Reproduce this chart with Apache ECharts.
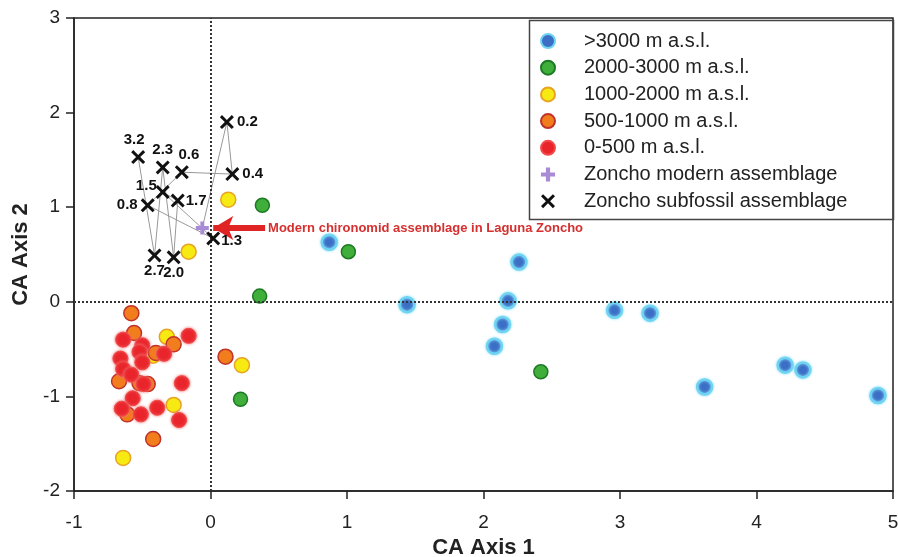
<!DOCTYPE html>
<html>
<head>
<meta charset="utf-8">
<script src="https://cdn.jsdelivr.net/npm/echarts@6/dist/echarts.min.js"></script>
<style>
  html, body { margin: 0; padding: 0; background: #fff; }
  #chart { width: 898px; height: 557px; }
</style>
</head>
<body>
<div id="chart"></div>
<script>
// sample scores on CA axes 1 and 2, grouped by altitude
const above3000 = [[0.87, 0.63], [1.44, -0.03], [2.26, 0.42], [2.18, 0.01], [2.14, -0.24], [2.08, -0.47],
  [2.96, -0.09], [3.22, -0.12], [3.62, -0.90], [4.21, -0.67], [4.34, -0.72], [4.89, -0.99]];
const alt2000to3000 = [[0.38, 1.02], [1.01, 0.53], [0.36, 0.06], [0.22, -1.03], [2.42, -0.74]];
const alt1000to2000 = [[0.13, 1.08], [-0.16, 0.53], [-0.32, -0.37], [0.23, -0.67], [-0.27, -1.09],
  [-0.64, -1.65], [-0.42, -0.57]];
const alt500to1000 = [[-0.58, -0.12], [-0.56, -0.33], [-0.27, -0.45], [-0.40, -0.54], [0.11, -0.58],
  [-0.67, -0.84], [-0.52, -0.86], [-0.46, -0.87], [-0.61, -1.19], [-0.42, -1.45]];
const alt0to500 = [[-0.64, -0.40], [-0.16, -0.36], [-0.50, -0.46], [-0.52, -0.53], [-0.34, -0.55],
  [-0.66, -0.60], [-0.50, -0.64], [-0.64, -0.71], [-0.58, -0.77], [-0.49, -0.87], [-0.21, -0.86],
  [-0.57, -1.02], [-0.65, -1.13], [-0.51, -1.19], [-0.39, -1.12], [-0.23, -1.25]];

// Zoncho: modern sample and subfossil samples (ages, ka)
const zonchoModern = [-0.06, 0.78];
const fossilAge = ['0.2', '0.4', '0.6', '0.8', '1.3', '1.5', '1.7', '2.0', '2.3', '2.7', '3.2'];
const fossilX = [0.12, 0.16, -0.21, -0.46, 0.02, -0.35, -0.24, -0.27, -0.35, -0.41, -0.53];
const fossilY = [1.90, 1.35, 1.37, 1.02, 0.67, 1.16, 1.07, 0.47, 1.42, 0.49, 1.53];

const arrowFrom = [0.40, 0.78];
const arrowTo = [0.02, 0.78];
const note = 'Modern chironomid assemblage in Laguna Zoncho';

const names = ['>3000 m a.s.l.', '2000-3000 m a.s.l.', '1000-2000 m a.s.l.', '500-1000 m a.s.l.',
  '0-500 m a.s.l.', 'Zoncho modern assemblage', 'Zoncho subfossil assemblage'];

// label placement of the age labels
const agePos = {
  '0.2': ['right', [0, 0]], '0.4': ['right', [0, 0]], '0.6': ['top', [7, 0]], '0.8': ['left', [0, 0]],
  '1.3': ['right', [-2, 2]], '1.5': ['left', [4, -6]], '1.7': ['right', [-2, 0]], '2.0': ['bottom', [0, -2]],
  '2.3': ['top', [0, 0]], '2.7': ['bottom', [0, -2]], '3.2': ['top', [-4, 0]]
};

const font = '"Liberation Sans", Arial, sans-serif';
const xPath = 'path://M3,0 L10,7 L17,0 L20,3 L13,10 L20,17 L17,20 L10,13 L3,20 L0,17 L7,10 L0,3 Z';
const plusPath = 'path://M7,0 L13,0 L13,7 L20,7 L20,13 L13,13 L13,20 L7,20 L7,13 L0,13 L0,7 L7,7 Z';

var fossilData = fossilAge.map(function (a, i) {
  return {
    value: [fossilX[i], fossilY[i]],
    label: { position: agePos[a][0], offset: agePos[a][1], formatter: a }
  };
});
var pathData = [zonchoModern].concat(fossilX.map(function (x, i) { return [x, fossilY[i]]; }));

function dots(name, data, fill, border, size, bw, shadow) {
  return {
    name: name, type: 'scatter', data: data, symbolSize: size,
    itemStyle: { color: fill, borderColor: border, borderWidth: bw, opacity: 1,
      shadowBlur: shadow ? 3 : 0, shadowColor: shadow || 'transparent' },
    z: 3
  };
}

var axisCommon = {
  axisLine: { show: true, onZero: false, lineStyle: { color: '#222', width: 1.5 } },
  axisTick: { show: true, length: 8, lineStyle: { color: '#222', width: 1.5 } },
  splitLine: { show: false }
};

var chart = echarts.init(document.getElementById('chart'));
var option = {
  animation: false,
  textStyle: { fontFamily: font },
  grid: { left: 74, right: 5, top: 18, bottom: 66, show: true, borderColor: '#222', borderWidth: 1.5,
    outerBoundsMode: 'none', containLabel: false },
  xAxis: Object.assign({
    type: 'value', min: -1, max: 5, interval: 1,
    name: 'CA Axis 1', nameLocation: 'middle', nameGap: 43,
    nameTextStyle: { fontSize: 22, fontWeight: 'bold', color: '#222' },
    axisLabel: { fontSize: 19, color: '#222', margin: 22 }
  }, axisCommon),
  yAxis: Object.assign({
    type: 'value', min: -2, max: 3, interval: 1,
    name: 'CA Axis 2', nameLocation: 'middle', nameGap: 30,
    nameTextStyle: { fontSize: 22, fontWeight: 'bold', color: '#222' },
    axisLabel: { fontSize: 19, color: '#222', margin: 14 }
  }, axisCommon),
  legend: {
    data: names, orient: 'vertical', left: 535, top: 26,
    itemWidth: 14, itemHeight: 14, itemGap: 6.7,
    textStyle: { fontSize: 20, color: '#222', lineHeight: 20, padding: [0, 0, 0, 24] }
  },
  graphic: [{
    type: 'rect', left: 527, top: 18, z: 10, silent: true,
    shape: { width: 364, height: 199 },
    style: { fill: 'none', stroke: '#444', lineWidth: 1.5 }
  }],
  series: [
    {
      type: 'line', data: pathData, symbol: 'none', silent: true, z: 2,
      lineStyle: { color: '#999', width: 1 },
      markLine: {
        silent: true, symbol: 'none', label: { show: false },
        lineStyle: { color: '#333', type: 'dotted', width: 2 },
        data: [{ xAxis: 0 }, { yAxis: 0 }]
      }
    },
    dots(names[0], above3000, '#3b6fc6', '#6fd3f2', 15, 2.5, '#8fe0f8'),
    dots(names[1], alt2000to3000, '#3fae3a', '#1d7a24', 14, 1.5),
    dots(names[2], alt1000to2000, '#f6ea12', '#e8a324', 15, 1.5),
    dots(names[3], alt500to1000, '#f27d1c', '#c0322a', 15, 1.5),
    dots(names[4], alt0to500, '#e9242a', '#f04a4a', 15, 1, '#f07070'),
    {
      name: names[5], type: 'scatter', data: [zonchoModern], symbol: plusPath, symbolSize: 13, z: 4,
      itemStyle: { color: '#a98ad6', opacity: 1 },
      markLine: {
        silent: true, symbol: ['none', 'arrow'], symbolSize: [18, 20],
        lineStyle: { color: '#e02424', width: 6, type: 'solid' },
        label: { show: true, position: 'start', formatter: note, distance: 3,
          color: '#d5302f', fontSize: 13, fontWeight: 'bold' },
        data: [[{ coord: arrowFrom }, { coord: arrowTo }]]
      }
    },
    {
      name: names[6], type: 'scatter', data: fossilData, symbol: xPath, symbolSize: 14, z: 5,
      itemStyle: { color: '#111', opacity: 1 },
      label: { show: true, fontSize: 15, fontWeight: 'bold', color: '#111', distance: 3 }
    }
  ]
};
option && chart.setOption(option);
</script>
</body>
</html>
